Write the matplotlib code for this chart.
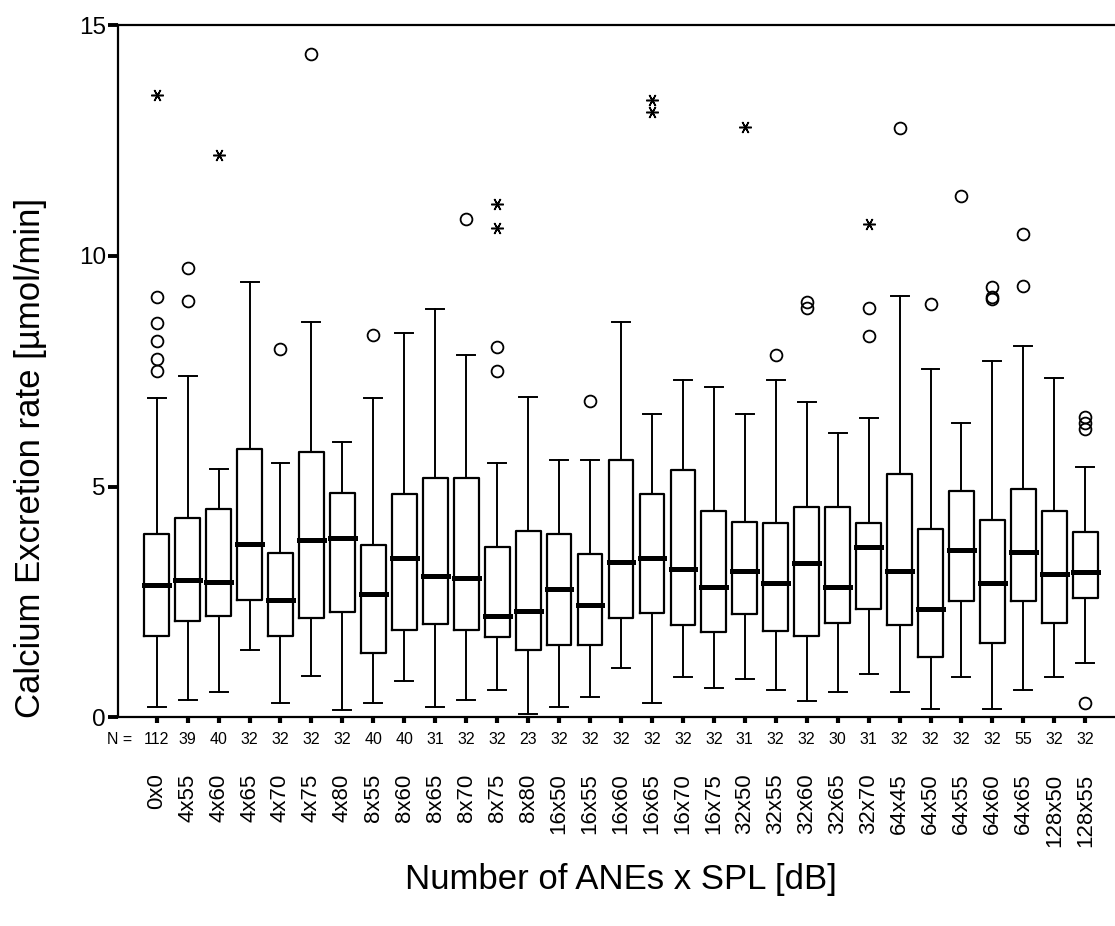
import matplotlib
matplotlib.use("Agg")
import matplotlib.pyplot as plt

plt.rcParams['font.family'] = ['Liberation Sans', 'DejaVu Sans']

categories = ['0x0', '4x55', '4x60', '4x65', '4x70', '4x75', '4x80',
              '8x55', '8x60', '8x65', '8x70', '8x75', '8x80',
              '16x50', '16x55', '16x60', '16x65', '16x70', '16x75',
              '32x50', '32x55', '32x60', '32x65', '32x70',
              '64x45', '64x50', '64x55', '64x60', '64x65',
              '128x50', '128x55']
n_counts = [112, 39, 40, 32, 32, 32, 32, 40, 40, 31, 32, 32, 23,
            32, 32, 32, 32, 32, 32, 31, 32, 32, 30, 31,
            32, 32, 32, 32, 55, 32, 32]

whisk_lo = [0.23, 0.38, 0.54, 1.45, 0.31, 0.90, 0.15, 0.31, 0.78, 0.22, 0.38, 0.59, 0.08,
            0.23, 0.43, 1.06, 0.32, 0.87, 0.63, 0.82, 0.59, 0.35, 0.55, 0.94,
            0.55, 0.19, 0.87, 0.19, 0.59, 0.87, 1.18]
q1 = [1.76, 2.08, 2.19, 2.54, 1.76, 2.15, 2.28, 1.40, 1.89, 2.03, 1.89, 1.73, 1.45,
      1.57, 1.57, 2.16, 2.27, 2.00, 1.84, 2.23, 1.88, 1.77, 2.04, 2.35,
      2.00, 1.30, 2.51, 1.61, 2.51, 2.04, 2.59]
medians = [2.87, 2.98, 2.94, 3.76, 2.55, 3.84, 3.89, 2.67, 3.45, 3.06, 3.02, 2.20, 2.31,
           2.79, 2.43, 3.37, 3.46, 3.22, 2.83, 3.18, 2.91, 3.34, 2.83, 3.70,
           3.18, 2.35, 3.62, 2.91, 3.58, 3.11, 3.14]
q3 = [3.97, 4.32, 4.52, 5.81, 3.57, 5.74, 4.86, 3.74, 4.83, 5.18, 5.18, 3.69, 4.04,
      3.97, 3.54, 5.58, 4.83, 5.35, 4.48, 4.24, 4.20, 4.56, 4.56, 4.20,
      5.27, 4.09, 4.91, 4.28, 4.95, 4.48, 4.01]
whisk_hi = [6.91, 7.40, 5.38, 9.43, 5.50, 8.57, 5.97, 6.91, 8.33, 8.85, 7.86, 5.50, 6.95,
            5.58, 5.58, 8.57, 6.57, 7.31, 7.15, 6.57, 7.31, 6.84, 6.17, 6.48,
            9.13, 7.54, 6.37, 7.71, 8.05, 7.35, 5.42]

# outliers (circles) and extreme values (stars)
outliers = [[9.11, 8.55, 8.16, 7.76, 7.51], [9.73, 9.02], [], [], [7.97], [14.37], [],
            [8.28], [], [], [10.79], [8.03, 7.50], [],
            [], [6.86], [], [], [], [], [], [7.84], [9.00, 8.86], [], [8.86, 8.27],
            [12.76], [8.95], [11.30], [9.32, 9.11, 9.06], [10.48, 9.35],
            [], [6.50, 6.38, 6.24, 0.30]]
extremes = [[13.49], [], [12.18], [], [], [], [],
            [], [], [], [], [11.12, 10.60], [],
            [], [], [], [13.37, 13.11], [], [], [12.80], [], [], [], [10.68],
            [], [], [], [], [], [], []]

fig = plt.figure(figsize=(11.15, 9.26), dpi=100)
ax = fig.add_axes([0.1061, 0.2254, 0.8939, 0.973 - 0.2254])

stats = []
for i in range(len(categories)):
    stats.append({'med': medians[i], 'q1': q1[i], 'q3': q3[i],
                  'whislo': whisk_lo[i], 'whishi': whisk_hi[i],
                  'fliers': outliers[i]})

pos = list(range(len(categories)))
ax.bxp(stats, positions=pos, widths=0.8, capwidths=0.58, patch_artist=False,
       boxprops=dict(color='black', linewidth=1.6),
       whiskerprops=dict(color='black', linewidth=1.4),
       capprops=dict(color='black', linewidth=1.4),
       medianprops=dict(color='black', linewidth=3.6, solid_capstyle='projecting'),
       flierprops=dict(marker='o', markerfacecolor='none', markeredgecolor='black',
                       markersize=8.5, markeredgewidth=1.3, linestyle='none'))

for i, ext in enumerate(extremes):
    if ext:
        ax.plot([i] * len(ext), ext, linestyle='none', marker=(6, 2, 90),
                markersize=9, markeredgewidth=1.1, color='black')

ax.set_xlim(-1.24, 30.96)
ax.set_ylim(0, 15)
ax.set_yticks([0, 5, 10, 15])
ax.set_yticklabels(['0', '5', '10', '15'], fontsize=17.5)
ax.set_xticks(pos)
ax.set_xticklabels(categories, rotation=90, fontsize=16)
ax.tick_params(axis='y', direction='out', length=7, width=2.8, pad=2)
ax.tick_params(axis='x', direction='out', length=4.5, width=3, pad=36)
ax.spines['right'].set_visible(False)
for s in ['left', 'top', 'bottom']:
    ax.spines[s].set_linewidth(1.6)

# N counts under each box
for i, n in enumerate(n_counts):
    ax.annotate(str(n), xy=(i, 0), xycoords=('data', 'axes fraction'),
                xytext=(0, -16), textcoords='offset points',
                ha='center', va='center', fontsize=11.5)
ax.annotate('N =', xy=(-0.8, 0), xycoords=('data', 'axes fraction'),
            xytext=(0, -16), textcoords='offset points',
            ha='right', va='center', fontsize=11.5)

fig.text(31 / 1115, 1 - 458 / 926, 'Calcium Excretion rate [µmol/min]',
         rotation=90, ha='center', va='center', fontsize=25)
fig.text(621 / 1115, 1 - 880 / 926, 'Number of ANEs x SPL [dB]',
         ha='center', va='center', fontsize=25)

fig.savefig('out.png', dpi=100)
